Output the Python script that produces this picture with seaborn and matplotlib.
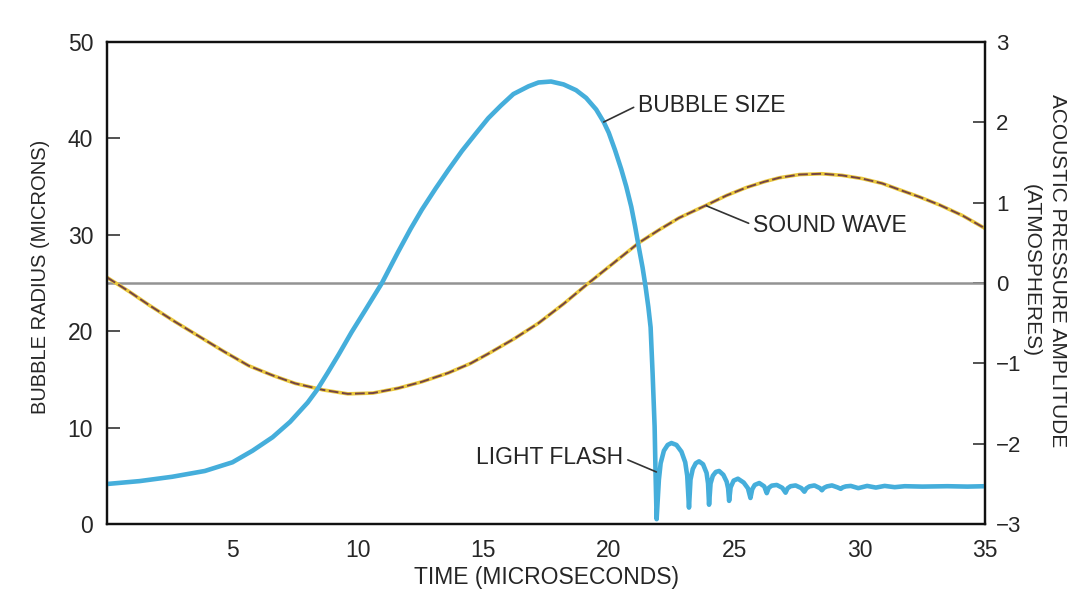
import matplotlib
matplotlib.use("Agg")
import matplotlib.pyplot as plt
import seaborn as sns
import pandas as pd

sns.set_style("white")
plt.rcParams['font.family'] = ['Liberation Sans', 'DejaVu Sans']

# ---- data ----
bubble_time = [0, 1.3, 2.6, 3.9, 5.0, 5.8, 6.6, 7.3, 7.65, 8.0, 8.37, 8.8, 9.24, 9.75,
               10.3, 10.96, 11.6, 12.1, 12.55, 13.1, 13.6, 14.15, 14.7, 15.2, 15.7,
               16.2, 16.8, 17.2, 17.7, 18.2, 18.7, 19.1, 19.5, 19.8, 20.0, 20.25,
               20.5, 20.7, 20.9, 21.05, 21.2, 21.35, 21.47, 21.58, 21.67, 21.75,
               21.83, 21.87, 21.91,
               22.0, 22.07, 22.2, 22.35, 22.5, 22.7, 22.9, 23.05, 23.13, 23.2,
               23.26, 23.35, 23.47, 23.6, 23.76, 23.9, 23.96, 24.0,
               24.06, 24.15, 24.27, 24.4, 24.57, 24.7, 24.76, 24.8,
               24.86, 24.98, 25.15, 25.38, 25.55, 25.65,
               25.72, 25.82, 26.0, 26.2, 26.3,
               26.38, 26.5, 26.7, 26.92, 27.05,
               27.13, 27.25, 27.45, 27.68, 27.8,
               27.88, 28.0, 28.2, 28.42, 28.5,
               28.58, 28.7, 28.9, 29.12, 29.25,
               29.33, 29.45, 29.65, 29.95, 30.3, 30.65, 31.0, 31.4, 31.8,
               32.5, 33.5, 34.3, 35.0]
bubble_radius = [4.15, 4.45, 4.9, 5.5, 6.4, 7.6, 9.0, 10.6, 11.6, 12.6, 13.9, 15.7, 17.6, 19.9,
                 22.2, 25.0, 28.2, 30.6, 32.6, 34.8, 36.7, 38.7, 40.5, 42.1, 43.4,
                 44.6, 45.4, 45.8, 45.9, 45.6, 45.0, 44.2, 43.0, 41.7, 40.6, 38.8,
                 36.8, 35.0, 32.9, 30.9, 28.7, 26.6, 24.6, 22.5, 20.4, 15.6,
                 10.1, 4.9, 0.5,
                 4.6, 6.3, 7.6, 8.2, 8.4, 8.2, 7.5, 6.4, 5.0, 1.7,
                 4.6, 5.7, 6.3, 6.5, 6.2, 5.3, 4.2, 2.0,
                 4.2, 5.0, 5.4, 5.5, 5.1, 4.4, 3.7, 2.4,
                 3.8, 4.5, 4.7, 4.3, 3.7, 2.7,
                 3.6, 4.05, 4.25, 3.9, 3.2,
                 3.75, 3.98, 4.05, 3.75, 3.25,
                 3.7, 3.92, 4.0, 3.72, 3.35,
                 3.7, 3.9, 4.0, 3.72, 3.5,
                 3.75, 3.9, 4.0, 3.8, 3.65,
                 3.8, 3.9, 3.95, 3.72, 3.95, 3.78, 3.95, 3.82, 3.92,
                 3.88, 3.92, 3.88, 3.92]

sound_time = [0, 0.9, 1.7, 2.7, 3.7, 4.7, 5.65, 6.6, 7.5, 8.6, 9.6, 10.6, 11.6,
              12.55, 13.6, 14.5, 15.2, 16.2, 17.2, 18.2, 19.2, 20.2, 21.2, 22.0,
              22.8, 23.9, 24.7, 25.5, 26.2, 26.8, 27.6, 28.5, 29.3, 30.1, 30.9,
              31.6, 32.4, 33.2, 34.1, 35.0]
sound_pressure = [0.07, -0.11, -0.28, -0.48, -0.67, -0.86, -1.03, -1.15, -1.25, -1.33,
                  -1.38, -1.37, -1.31, -1.23, -1.12, -1.0, -0.88, -0.7, -0.5, -0.26,
                  0.0, 0.25, 0.5, 0.66, 0.81, 0.97, 1.09, 1.19, 1.26, 1.31, 1.35,
                  1.36, 1.34, 1.30, 1.24, 1.16, 1.07, 0.97, 0.84, 0.68]

x_ticks = [5, 10, 15, 20, 25, 30, 35]
left_ticks = [0, 10, 20, 30, 40, 50]
right_ticks = [-3, -2, -1, 0, 1, 2, 3]
right_tick_labels = ['\u22123', '\u22122', '\u22121', '0', '1', '2', '3']

bubble_df = pd.DataFrame({'time': bubble_time, 'radius': bubble_radius})
sound_df = pd.DataFrame({'time': sound_time, 'pressure': sound_pressure})

# ---- figure ----
fig = plt.figure(figsize=(10.9, 5.9), dpi=100)
ax = fig.add_axes([107 / 1090, 1 - 524 / 590, 878 / 1090, 482 / 590])
ax2 = ax.twinx()

text_color = '#262626'
BLUE = '#45aedb'

# right axis: zero line and sound wave
ax2.axhline(0, color='#939393', lw=1.8, zorder=1)
sns.lineplot(data=sound_df, x='time', y='pressure', ax=ax2, color='#ebc93e',
             lw=2.6, estimator=None, sort=False, zorder=2)
sns.lineplot(data=sound_df, x='time', y='pressure', ax=ax2, color='#744444',
             lw=1.4, estimator=None, sort=False, zorder=3)
ax2.lines[-1].set_dashes([5, 1.8])

# left axis: bubble radius
sns.lineplot(data=bubble_df, x='time', y='radius', ax=ax, color=BLUE, lw=3.3,
             estimator=None, sort=False)
ax.set_zorder(ax2.get_zorder() + 1)
ax.patch.set_visible(False)

ax.set_xlim(0, 35)
ax.set_ylim(0, 50)
ax2.set_ylim(-3, 3)

ax.set_xticks(x_ticks)
ax.set_yticks(left_ticks)
ax2.set_yticks(right_ticks)
ax2.set_yticklabels(right_tick_labels)

for a in (ax, ax2):
    for s in a.spines.values():
        s.set_visible(True)
        s.set_color('#111111')
        s.set_linewidth(1.6)

ax.tick_params(axis='both', direction='in', length=9, width=1.2, color='#333333',
               labelsize=16.5, labelcolor=text_color, top=False, right=False)
ax.tick_params(axis='y', pad=10)
ax.tick_params(axis='x', pad=11)
ax2.tick_params(axis='y', direction='in', length=9, width=1.2, color='#333333',
                labelsize=16, labelcolor=text_color, left=False, pad=8)

ax.set_xlabel('TIME (MICROSECONDS)', fontsize=16.5, color=text_color, va='center')
ax.xaxis.set_label_coords(0.5, -0.112)
ax.set_ylabel('BUBBLE RADIUS (MICRONS)', fontsize=14.5, color=text_color,
              va='center', ha='center')
ax.yaxis.set_label_coords(-0.0763, 0.512)
ax2.set_ylabel('ACOUSTIC PRESSURE AMPLITUDE\n(ATMOSPHERES)', fontsize=15,
               color=text_color, rotation=-90, va='center', ha='center',
               multialignment='center', linespacing=1.45)
ax2.yaxis.set_label_coords(1.0677, 0.525)

arrow = dict(arrowstyle='-', color='#333333', lw=1.2, shrinkA=1, shrinkB=0)
ax.annotate('BUBBLE SIZE', xy=(19.8, 41.7), xytext=(0.605, 0.869),
            textcoords='axes fraction', ha='left', va='center', fontsize=16.5,
            color=text_color, arrowprops=dict(arrow, relpos=(0, 0.5)))
ax.annotate('SOUND WAVE', xy=(23.9, 33.0), xytext=(0.736, 0.620),
            textcoords='axes fraction', ha='left', va='center', fontsize=16.5,
            color=text_color, arrowprops=dict(arrow, relpos=(0, 0.5)))
ax.annotate('LIGHT FLASH', xy=(21.9, 5.4), xytext=(0.588, 0.137),
            textcoords='axes fraction', ha='right', va='center', fontsize=16.5,
            color=text_color, arrowprops=dict(arrow, relpos=(1, 0.5)))

fig.savefig('out.png', dpi=100, facecolor='white')
